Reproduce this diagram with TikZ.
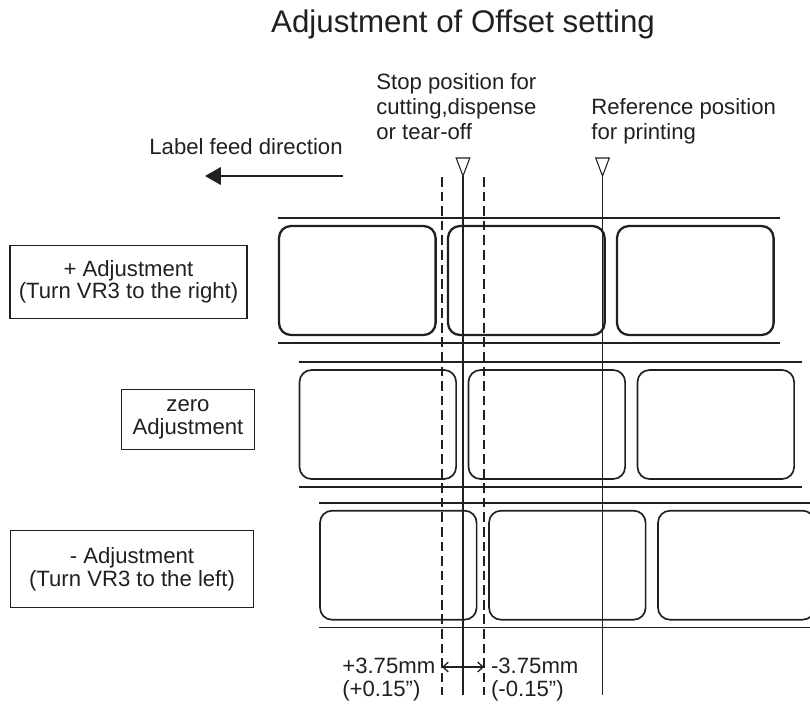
\documentclass[tikz,border=0pt]{standalone}
\usepackage{fontspec}
\setmainfont{Liberation Sans}
\usetikzlibrary{arrows.meta}
\definecolor{ink}{RGB}{35,31,32}

\begin{document}
\begin{tikzpicture}[x=0.02cm, y=-0.02cm, color=ink,
  txt/.style={font=\fontsize{12.6}{14.2}\selectfont, inner sep=0pt, align=left},
  adjbox/.style={draw, line width=0.6pt, font=\fontsize{12.6}{13}\selectfont, align=center, inner sep=0pt},
  web/.style={line width=1pt},
  lbl/.style={rounded corners=2.4mm},
  cutline/.style={line width=0.75pt, dash pattern=on 5.5pt off 2.8pt},
  posline/.style={line width=0.75pt},
  tri/.style={line width=0.6pt, fill=white}]
\useasboundingbox (0,0) rectangle (810,707);
\clip (0,0) rectangle (810,707);

% title and captions (multi-line nodes sit on their last baseline)
\node[font=\fontsize{17.8}{21}\selectfont, anchor=base] (title) at (463,32) {Adjustment of Offset setting};
\node[txt, anchor=base west] (stoptext) at (376,139) {Stop position for\\cutting,dispense\\or tear-off};
\node[txt, anchor=base west] (reftext) at (591,139) {Reference position\\for printing};
\node[txt, anchor=base] (feedtext) at (246,154) {Label feed direction};
\coordinate (feedstart) at (343,176);
\coordinate (feedend) at (205,176);
\draw[line width=0.9pt, -{Triangle[length=9pt,width=10pt]}] (feedstart) -- (feedend);

% adjustment boxes
\node[adjbox, minimum width=4.74cm, minimum height=1.46cm] (plusbox) at (128.5,281.7) {+ Adjustment\\(Turn VR3 to the right)};
\node[adjbox, minimum width=2.65cm, minimum height=1.19cm] (zerobox) at (188,419.7) {zero\\Adjustment};
\node[adjbox, minimum width=4.85cm, minimum height=1.53cm] (minusbox) at (132,569.2) {- Adjustment\\(Turn VR3 to the left)};

% label web, one row per adjustment
\foreach \top/\lx/\rx/\lw in {218/278/780/1.3pt, 362/298.5/801.7/0.95pt, 502.7/319/812/0.95pt}{
  \draw[web] (\lx,\top) -- (\rx,\top) (\lx,\top+124.8) -- (\rx,\top+124.8);
  \foreach \i in {0,1,2}
    \draw[lbl, line width=\lw] (\lx+1+169*\i,\top+8) rectangle ++(156.6,109);
}

% stop and reference positions
\coordinate (stoptip) at (463,176);
\coordinate (stopend) at (463,695);
\coordinate (reftip) at (602.5,176);
\coordinate (refend) at (602.5,695);
\draw[tri] (456.2,158) -- (469.8,158) -- (stoptip) -- cycle;
\draw[tri] (595.7,158) -- (609.3,158) -- (reftip) -- cycle;
\draw[posline] (stoptip) -- (stopend);
\draw[posline] (reftip) -- (refend);

% offset range
\coordinate (cuttopl) at (442,177);
\coordinate (cutbotl) at (442,695);
\coordinate (cuttopr) at (484,177);
\coordinate (cutbotr) at (484,695);
\draw[cutline] (cuttopl) -- (cutbotl);
\draw[cutline] (cuttopr) -- (cutbotr);
\coordinate (tolL) at (442,667);
\coordinate (tolR) at (484,667);
\draw[posline, {Straight Barb[length=3pt,width=5.5pt]}-{Straight Barb[length=3pt,width=5.5pt]}] (tolL) -- (tolR);
\node[txt, anchor=base west, font=\fontsize{12.6}{13}\selectfont] (plustol) at (342,696) {+3.75mm\\(+0.15”)};
\node[txt, anchor=base west, font=\fontsize{12.6}{13}\selectfont] (minustol) at (490.7,696) {-3.75mm\\(-0.15”)};
\end{tikzpicture}
\end{document}
